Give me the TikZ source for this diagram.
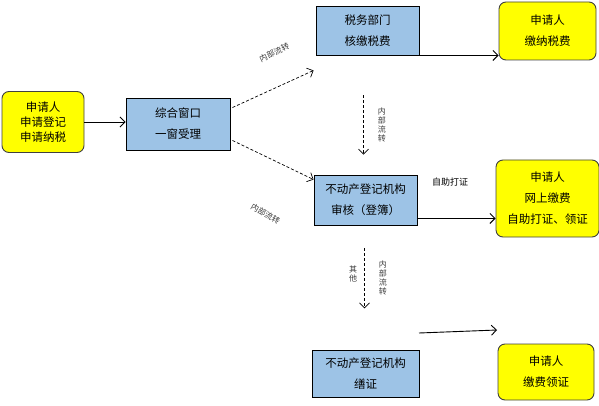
\documentclass[tikz,border=0pt]{standalone}
\usepackage{fontspec}
\setmainfont{Noto Sans CJK SC}
\usetikzlibrary{arrows.meta,positioning,calc}
\definecolor{appl}{HTML}{FFFF00}
\definecolor{dept}{HTML}{9DC3E6}
\definecolor{lbl}{HTML}{3A3A3A}
\tikzset{
  ybox/.style={draw=black!75,line width=0.9pt,rounded corners=7pt,fill=appl,align=center,inner sep=2pt,font=\fontsize{11.5}{21}\selectfont},
  bbox/.style={ybox,draw=black,rounded corners=0pt,fill=dept},
  ar/.style={-{Straight Barb[length=5pt,width=10pt]},line width=0.9pt},
  dar/.style={ar,line width=0.7pt,dash pattern=on 3pt off 2pt},
  tag/.style={font=\fontsize{8}{9}\selectfont,text=lbl,inner sep=1pt,align=center},
}

\begin{document}
\begin{tikzpicture}[x=1pt,y=-1pt]
  \useasboundingbox (0,0) rectangle (599,406);
  % applicant and windows
  \node[ybox,minimum width=82,minimum height=61,font=\fontsize{11.5}{15}\selectfont] (app) at (43,122) {申请人\\申请登记\\申请纳税};
  \node[bbox,minimum width=104,minimum height=52] (win) at (178,124) {综合窗口\\一窗受理};
  \node[bbox,minimum width=103,minimum height=49] (tax) at (367.5,30.5) {税务部门\\核缴税费};
  \node[bbox,minimum width=103,minimum height=50] (aud) at (365.5,200) {不动产登记机构\\审核（登簿）};
  \node[bbox,minimum width=107,minimum height=47] (cert) at (365.5,373.5) {不动产登记机构\\缮证};
  \node[ybox,minimum width=97,minimum height=58] (pay) at (547.5,31) {申请人\\缴纳税费};
  \node[ybox,minimum width=103,minimum height=77] (web) at (547.5,198.5) {申请人\\网上缴费\\自助打证、领证};
  \node[ybox,minimum width=96,minimum height=56] (get) at (546,372) {申请人\\缴费领证};
  \coordinate (f1) at (419,333);
  \coordinate (f2) at (497,330);

  \draw[ar] (app.east) -- (app.east -| win.west);
  \draw[ar] (tax.south east) -- (tax.south east -| pay.west);
  \draw[ar] ([yshift=7pt]aud.south east) -- ([yshift=7pt]aud.south east -| web.west);
  \draw[ar] (f1) -- (f2);

  % internal transfer
  \draw[dar] ($(win.north east)+(2,10)$) -- ($(tax.south west)+(-2,15)$);
  \draw[dar] ($(win.south east)+(2,-10)$) -- ($(aud.north west)+(0,5)$);
  \node[tag,rotate=25] (up) at ($(win.north east)+(44,-45)$) {内部流转};
  \node[tag,rotate=-30] (dn) at ($(win.south east)+(35,63)$) {内部流转};
  \draw[dar] ($(tax.south)+(-4,40)$) -- node[tag,right=13pt] {内\\部\\流\\转} ($(aud.north)+(-2,-20)$);
  \draw[dar] ($(aud.south)+(-1,23)$) -- node[tag,left=6pt,yshift=4pt] {其\\他} node[tag,right=13pt] {内\\部\\流\\转} ($(aud.south)+(-1,83)$);
  \node[tag,font=\fontsize{9}{10}\selectfont,text=black] (self) at (450,182) {自助打证};
\end{tikzpicture}
\end{document}
